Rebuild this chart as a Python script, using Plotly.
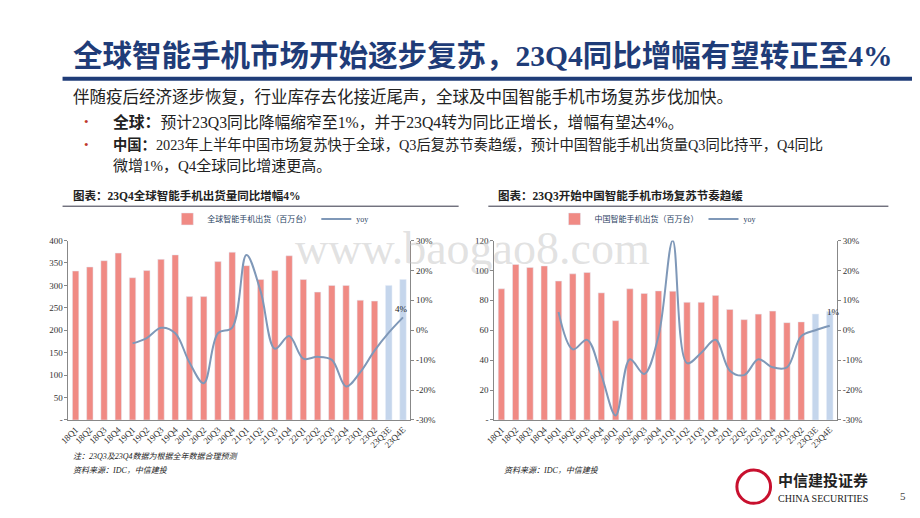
import plotly.graph_objects as go

quarters = ["18Q1","18Q2","18Q3","18Q4","19Q1","19Q2","19Q3","19Q4","20Q1","20Q2","20Q3","20Q4",
            "21Q1","21Q2","21Q3","21Q4","22Q1","22Q2","22Q3","22Q4","23Q1","23Q2","23Q3E","23Q4E"]
global_ship = [332,341,355,372,317,333,358,368,275,275,353,374,344,313,333,366,313,285,300,300,267,265,300,313]
global_yoy = [None,None,None,None,-4.4,-2.6,0.8,-1.0,-10.8,-17.7,-1.0,0.9,25.2,13.0,-6.2,-1.9,-9.5,-8.9,-9.9,-18.8,-14.0,-6.8,-0.8,4.3]
china_ship = [87.7,104,102,103,92.9,97.7,98.6,85,66.4,87.7,84.6,86.3,86.1,78.7,78.7,83.3,73.9,67.1,70.8,72.8,65.1,65.6,70.8,72.6]
china_yoy = [None,None,None,None,6.1,-6.4,-3.2,-15,-28.5,-9.7,-14.6,-2.0,30,-11,-7.5,-3.2,-13.5,-15,-9.7,-12.4,-12.4,-2.0,0.0,1.5]

RED = "#f08a84"; BLUE = "#c5d6ec"; LINE = "#7f98b8"; NAVY = "#1f3c78"
colors = [BLUE if q.endswith("E") else RED for q in quarters]
font = "Liberation Serif, Noto Sans CJK SC"

fig = go.Figure()
fig.add_bar(x=quarters, y=global_ship, marker_color=colors, width=0.45, name="全球智能手机出货（百万台）",
            xaxis="x", yaxis="y", legend="legend")
fig.add_scatter(x=quarters, y=global_yoy, mode="lines", line=dict(color=LINE, width=2, shape="spline", smoothing=1.0),
                name="yoy", xaxis="x", yaxis="y2", legend="legend")
fig.add_bar(x=quarters, y=china_ship, marker_color=colors, width=0.45, name="中国智能手机出货（百万台）",
            xaxis="x2", yaxis="y3", legend="legend2")
fig.add_scatter(x=quarters, y=china_yoy, mode="lines", line=dict(color=LINE, width=2, shape="spline", smoothing=1.0),
                name="yoy", xaxis="x2", yaxis="y4", legend="legend2")

tickf = dict(family=font, size=9, color="#333")
xcommon = dict(tickangle=-45, tickfont=tickf, showline=True, linecolor="#888", ticks="", showgrid=False)
ytop, ybot = 1-232/518, 1-415/518
fig.update_layout(
    width=920, height=518, margin=dict(l=0, r=0, t=0, b=0), plot_bgcolor="white", paper_bgcolor="white",
    showlegend=True, bargap=0.5, font=dict(family=font),
    xaxis=dict(domain=[52/920, 397/920], anchor="y", **xcommon),
    yaxis=dict(domain=[ybot, ytop], range=[0, 400], tickvals=list(range(0, 401, 50)),
               ticktext=["-"]+[str(v) for v in range(50, 401, 50)], tickfont=tickf, showgrid=False,
               showline=True, linecolor="#888", ticks="outside", ticklen=3, tickcolor="#888"),
    yaxis2=dict(overlaying="y", side="right", anchor="x", range=[-30, 30], tickvals=list(range(-30, 31, 10)),
                ticktext=[f"{v}%" for v in range(-30, 31, 10)], tickfont=tickf, showgrid=False, zeroline=False,
                showline=True, linecolor="#888", ticks="outside", ticklen=3, tickcolor="#888"),
    xaxis2=dict(domain=[482/920, 828/920], anchor="y3", **xcommon),
    yaxis3=dict(domain=[ybot, ytop], anchor="x2", range=[0, 120], tickvals=list(range(0, 121, 20)),
                ticktext=["-"]+[str(v) for v in range(20, 121, 20)], tickfont=tickf, showgrid=False,
                showline=True, linecolor="#888", ticks="outside", ticklen=3, tickcolor="#888"),
    yaxis4=dict(overlaying="y3", side="right", anchor="x2", range=[-30, 30], tickvals=list(range(-30, 31, 10)),
                ticktext=[f"{v}%" for v in range(-30, 31, 10)], tickfont=tickf, showgrid=False, zeroline=False,
                showline=True, linecolor="#888", ticks="outside", ticklen=3, tickcolor="#888"),
    legend=dict(orientation="h", x=0.165, y=1-210/518, xanchor="left", yanchor="middle",
                font=dict(size=8, family=font), bgcolor="rgba(0,0,0,0)"),
    legend2=dict(orientation="h", x=0.59, y=1-210/518, xanchor="left", yanchor="middle",
                 font=dict(size=8, family=font), bgcolor="rgba(0,0,0,0)"),
)

shapes = [
    dict(type="line", xref="paper", yref="paper", x0=46/920, x1=1, y0=1-67/518, y1=1-67/518, line=dict(color=NAVY, width=4)),
    dict(type="line", xref="paper", yref="paper", x0=46/920, x1=446/920, y0=1-197/518, y1=1-197/518, line=dict(color="#334", width=1)),
    dict(type="line", xref="paper", yref="paper", x0=476/920, x1=880/920, y0=1-197/518, y1=1-197/518, line=dict(color="#334", width=1)),
    dict(type="circle", xref="paper", yref="paper", x0=727/920, x1=761/920, y0=1-500/518, y1=1-466/518,
         line=dict(color="#c8102e", width=3)),
]
fig.update_layout(shapes=shapes)

ann = []
def A(x, y, t, size=11, color="#222", xanchor="left", **kw):
    ann.append(dict(xref="paper", yref="paper", x=x/920, y=1-y/518, text=t, showarrow=False, xanchor=xanchor,
                    yanchor="middle", font=dict(size=size, color=color, family=font), **kw))
A(460, 240, "www.baogao8.com", size=46, color="rgba(190,190,190,0.45)", xanchor="center")
A(55, 44, "<b>全球智能手机市场开始逐步复苏，23Q4同比增幅有望转正至4%</b>", size=29.5, color=NAVY)
A(55, 86, "伴随疫后经济逐步恢复，行业库存去化接近尾声，全球及中国智能手机市场复苏步伐加快。", size=16.5)
A(66, 111, "•", size=13, color="#c0392b")
A(95, 111, "<b>全球：</b>预计23Q3同比降幅缩窄至1%，并于23Q4转为同比正增长，增幅有望达4%。", size=15.8)
A(66, 134, "•", size=13, color="#c0392b")
A(95, 134, "<b>中国：</b>2023年上半年中国市场复苏快于全球，Q3后复苏节奏趋缓，预计中国智能手机出货量Q3同比持平，Q4同比", size=14.3)
A(95, 156, "微增1%，Q4全球同比增速更高。", size=15)
A(55, 186, "<b>图表：23Q4全球智能手机出货量同比增幅4%</b>", size=11.5)
A(484, 186, "<b>图表：23Q3开始中国智能手机市场复苏节奏趋缓</b>", size=11.5)
A(55, 452, "<i>注：23Q3及23Q4数据为根据全年数据合理预测</i>", size=8)
A(55, 466, "<i>资料来源：IDC，中信建投</i>", size=8)
A(490, 466, "<i>资料来源：IDC，中信建投</i>", size=8)
A(380, 302, "4%", size=9)
A(816, 305, "1%", size=9)
A(766, 477, "<b>中信建投证券</b>", size=15, color="#222")
A(766, 495, "CHINA SECURITIES", size=10, color="#222")
A(890, 493, "5", size=11, color="#444")
fig.update_layout(annotations=ann)

fig.write_html("out.html")
